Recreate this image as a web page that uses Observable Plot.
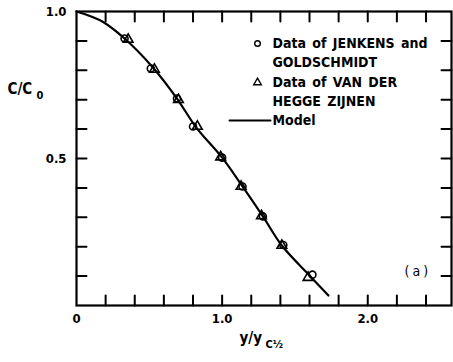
<!DOCTYPE html>
<html>
<head>
<meta charset="utf-8">
<script src="https://cdn.jsdelivr.net/npm/d3@7"></script>
<script src="https://cdn.jsdelivr.net/npm/@observablehq/plot@0.6"></script>
<style>
  html, body { margin: 0; padding: 0; background: #fff; }
  #chart svg text { word-spacing: 2px; }
  #chart svg .tag text { letter-spacing: 3px; }
</style>
</head>
<body>
<div id="chart"></div>
<script>
// Concentration profile across the jet, normalised by the half-width.
const jenkensX = [0.33, 0.51, 0.69, 0.80, 1.00, 1.14, 1.28, 1.42, 1.62];
const jenkensY = [0.908, 0.806, 0.704, 0.609, 0.503, 0.405, 0.303, 0.206, 0.105];

const vdhzX = [0.355, 0.535, 0.70, 0.83, 0.99, 1.13, 1.27, 1.41, 1.59];
const vdhzY = [0.905, 0.803, 0.700, 0.609, 0.505, 0.405, 0.305, 0.204, 0.095];

const modelX = [0, 0.10, 0.18, 0.33, 0.52, 0.69, 0.82, 1.00, 1.14, 1.28, 1.41, 1.60, 1.73];
const modelY = [1.0, 0.983, 0.965, 0.908, 0.812, 0.704, 0.607, 0.503, 0.405, 0.303, 0.204, 0.102, 0.034];

const xTicks = [0.2, 0.4, 0.6, 0.8, 1.0, 1.2, 1.4, 1.6, 1.8, 2.0, 2.2, 2.4];
const yTicks = [0.1, 0.2, 0.3, 0.4, 0.5, 0.6, 0.7, 0.8, 0.9];
const xLabels = [0, 1, 2];
const yLabels = [0.5, 1];
const xMax = 2.575;

const legendLines = ["Data of JENKENS and", "GOLDSCHMIDT", "Data of VAN DER", "HEGGE ZIJNEN", "Model"];

const jenkens = jenkensX.map((x, i) => ({x, y: jenkensY[i]}));
const vdhz = vdhzX.map((x, i) => ({x, y: vdhzY[i]}));
const model = modelX.map((x, i) => ({x, y: modelY[i]}));

const margin = {left: 76, right: 2, top: 11, bottom: 57};
const font = "'Liberation Sans Narrow', 'DejaVu Sans Condensed', 'Liberation Sans', sans-serif";

// a plain straight stroke used for the inward frame ticks and the legend key
const stroke = {draw(context, l) { context.moveTo(0, 0); context.lineTo(0, -l); }};
const tickOpts = {length: 10, anchor: "start", shape: stroke, stroke: "black", strokeWidth: 2};

// pixel placement relative to the plot's top-left corner
const at = (px, py) => ({frameAnchor: "top-left", dx: px - margin.left, dy: py - margin.top});
const note = (text, px, py, opts = {}) =>
  Plot.text([text], {...at(px, py), textAnchor: "start", lineAnchor: "middle", ...opts});

const chart = Plot.plot({
  width: 453,
  height: 362,
  marginLeft: margin.left,
  marginRight: margin.right,
  marginTop: margin.top,
  marginBottom: margin.bottom,
  style: {fontFamily: font, fontSize: "13px", fontWeight: "bold", color: "black", background: "white"},
  x: {domain: [0, xMax]},
  y: {domain: [0, 1]},
  marks: [
    Plot.axisX(xLabels, {tickSize: 0, tickPadding: 8, label: null,
      tickFormat: d => d === 0 ? "0" : d.toFixed(1)}),
    Plot.axisY(yLabels, {tickSize: 0, tickPadding: 10, label: null,
      tickFormat: d => d.toFixed(1)}),
    // inward ticks on all four sides
    Plot.vector(xTicks, {x: d => d, y: 0, rotate: 0, ...tickOpts}),
    Plot.vector(xTicks, {x: d => d, y: 1, rotate: 180, ...tickOpts}),
    Plot.vector(yTicks, {x: 0, y: d => d, rotate: 90, ...tickOpts}),
    Plot.vector(yTicks, {x: xMax, y: d => d, rotate: -90, ...tickOpts}),
    Plot.frame({stroke: "black", strokeWidth: 2.2}),
    // model curve and measurements
    Plot.line(model, {x: "x", y: "y", curve: "catmull-rom", stroke: "black", strokeWidth: 2.2}),
    Plot.dot(jenkens, {x: "x", y: "y", r: 3.5, stroke: "black", strokeWidth: 1.6, fill: "none"}),
    Plot.dot(vdhz, {x: "x", y: "y", symbol: "triangle", r: 3.6, stroke: "black", strokeWidth: 1.6, fill: "none"}),
    // legend
    Plot.dot([0], {...at(257, 43), r: 2.8, stroke: "black", strokeWidth: 1.4, fill: "none"}),
    Plot.dot([0], {...at(257, 82), symbol: "triangle", r: 2.8, stroke: "black", strokeWidth: 1.4, fill: "none"}),
    Plot.vector([0], {...at(229, 120), rotate: 90, length: 41, anchor: "start", shape: stroke,
      stroke: "black", strokeWidth: 2}),
    note(legendLines[0], 272, 43, {fontSize: 14}),
    note(legendLines[1], 272, 62, {fontSize: 14}),
    note(legendLines[2], 272, 82, {fontSize: 14}),
    note(legendLines[3], 272, 101, {fontSize: 14}),
    note(legendLines[4], 272, 120, {fontSize: 14}),
    note("(a)", 404, 271, {fontSize: 14, fontWeight: "normal", className: "tag"}),
    // axis titles with subscripts
    note("C/C", 7, 89, {fontSize: 15}),
    note("0", 36, 95, {fontSize: 11}),
    note("y/y", 239, 338, {fontSize: 15}),
    note("C½", 265, 344, {fontSize: 11})
  ]
});

document.getElementById("chart").appendChild(chart);
</script>
</body>
</html>
